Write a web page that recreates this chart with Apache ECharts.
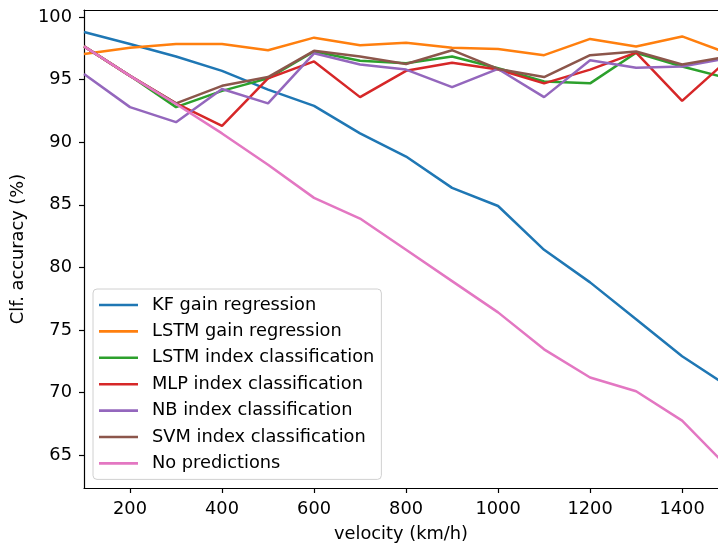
<!DOCTYPE html>
<html>
<head>
<meta charset="utf-8">
<script src="https://cdn.jsdelivr.net/npm/echarts@6/dist/echarts.min.js"></script>
<style>html,body{margin:0;padding:0;background:#fff}#c{width:718px;height:545px}</style>
</head>
<body>
<div id="c"></div>
<script>
const velocities = [100,200,300,400,500,600,700,800,900,1000,1100,1200,1300,1400,1500];
const kfGain   = [98.8,97.85,96.85,95.7,94.2,92.9,90.7,88.85,86.35,84.9,81.4,78.8,75.85,72.9,70.5];
const lstmGain = [97.05,97.55,97.85,97.85,97.35,98.35,97.75,97.95,97.55,97.45,96.95,98.25,97.65,98.45,97.1];
const lstmIdx  = [97.65,95.3,92.8,94.1,95.1,97.25,96.5,96.3,96.85,95.9,94.85,94.7,97.15,96.05,95.1];
const mlpIdx   = [97.65,95.3,93.1,91.3,95.1,96.45,93.6,95.7,96.35,95.8,94.7,95.8,97.15,93.3,96.6];
const nbIdx    = [95.45,92.8,91.6,94.25,93.1,97.1,96.2,95.8,94.4,95.85,93.6,96.55,95.95,96.05,96.7];
const svmIdx   = [97.65,95.3,93.1,94.5,95.2,97.3,96.85,96.25,97.35,95.85,95.2,96.95,97.25,96.2,96.85];
const noPred   = [97.65,95.3,93.05,90.7,88.2,85.55,83.9,81.4,78.9,76.4,73.45,71.2,70.1,67.75,64.0];
const seriesNames = ['KF gain regression','LSTM gain regression','LSTM index classification','MLP index classification','NB index classification','SVM index classification','No predictions'];
const seriesColors = ['#1f77b4','#ff7f0e','#2ca02c','#d62728','#9467bd','#8c564b','#e377c2'];
const xTicks = [200,400,600,800,1000,1200,1400];
const yTicks = [65,70,75,80,85,90,95,100];

const allData = [kfGain, lstmGain, lstmIdx, mlpIdx, nbIdx, svmIdx, noPred];
const FONT = 'DejaVu Sans';
const FS = 17.8;
const noComma = v => String(v);

const chart = echarts.init(document.getElementById('c'), null, {renderer:'canvas'});
chart.setOption({
  animation: false,
  backgroundColor: '#fff',
  color: seriesColors,
  grid: {left: 84, top: 10, right: 0, bottom: 57, show: false, containLabel: false, outerBoundsMode: 'none'},
  xAxis: [{
    type: 'value', min: 100, max: 1478,
    name: 'velocity (km/h)', nameLocation: 'middle', nameGap: 37,
    nameTextStyle: {fontFamily: FONT, fontSize: FS, color: '#000'},
    axisLine: {show: true, onZero: false, lineStyle: {color: '#000', width: 1.2}},
    axisTick: {show: true, length: 5, customValues: xTicks, lineStyle: {color: '#000', width: 1.2}},
    axisLabel: {customValues: xTicks, formatter: noComma, margin: 12, fontFamily: FONT, fontSize: FS, color: '#000'},
    splitLine: {show: false}
  }, {
    type: 'value', min: 100, max: 1478, position: 'top',
    axisLine: {show: true, onZero: false, lineStyle: {color: '#000', width: 1.2}},
    axisTick: {show: false}, axisLabel: {show: false}, splitLine: {show: false}
  }],
  yAxis: {
    type: 'value', min: 62.37, max: 100.56,
    name: 'Clf. accuracy (%)', nameLocation: 'middle', nameGap: 50, nameRotate: 90,
    nameTextStyle: {fontFamily: FONT, fontSize: FS, color: '#000'},
    axisLine: {show: true, onZero: false, lineStyle: {color: '#000', width: 1.2}},
    axisTick: {show: true, length: 5, customValues: yTicks, lineStyle: {color: '#000', width: 1.2}},
    axisLabel: {customValues: yTicks, formatter: noComma, margin: 12, fontFamily: FONT, fontSize: FS, color: '#000'},
    splitLine: {show: false}
  },
  legend: {
    orient: 'vertical', left: 93, top: 289,
    padding: [6, 7, 6, 6],
    itemWidth: 39, itemHeight: 2.6, itemGap: 6.4,
    icon: 'rect',
    backgroundColor: 'rgba(255,255,255,0.8)',
    borderColor: '#d0d0d0', borderWidth: 1, borderRadius: 4,
    textStyle: {fontFamily: FONT, fontSize: FS, color: '#000', lineHeight: 20, padding: [0,0,0,9]},
    data: seriesNames
  },
  series: allData.map((arr, i) => ({
    name: seriesNames[i],
    type: 'line',
    xAxisIndex: 0,
    symbol: 'none',
    clip: true,
    lineStyle: {width: 2.5, color: seriesColors[i]},
    itemStyle: {color: seriesColors[i]},
    z: 2 + i,
    data: velocities.map((v, j) => [v, arr[j]])
  }))
});
</script>
</body>
</html>
